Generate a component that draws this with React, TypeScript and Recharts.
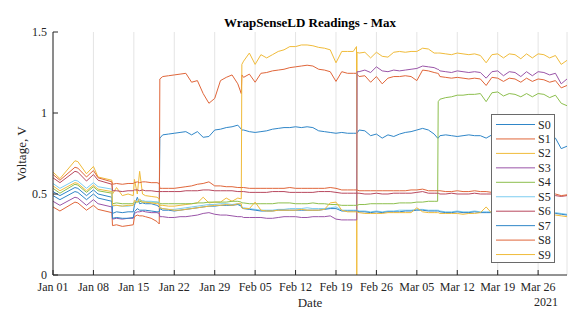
import React from 'react';
import { CartesianGrid, Line, LineChart, XAxis, YAxis } from 'recharts';

// sample times, in days after Jan 01 2021 (extra samples sit on the steps)
const days = [
  0, 1.2, 3.8, 4.3, 5.8, 7.0, 7.8, 10.2,
  10.3, 11, 12, 13, 13.9, 14.1, 14.6, 15, 15.5, 16, 17, 18, 18.4,
  18.5, 19, 20, 21, 22, 23, 24, 25, 26, 27, 28, 29, 30, 31, 32, 32.6,
  32.7, 33, 34, 35, 36, 37, 38, 39, 40, 41, 42, 43, 44, 45, 46, 47, 48, 49, 50, 51, 52, 52.55,
  52.6, 52.65, 53, 54, 55, 56, 57, 58, 59, 60, 61, 62, 63, 64, 65, 66, 66.6,
  66.7, 67, 68, 69, 70, 71, 72, 73, 74, 75, 76, 77, 78, 79, 80, 81, 82, 83, 84, 85, 86, 87, 88, 89,
];

const s0 = [
  0.515, 0.49, 0.54, 0.535, 0.49, 0.525, 0.5, 0.48,
  0.38, 0.39, 0.385, 0.39, 0.39, 0.43, 0.48, 0.44, 0.445, 0.44, 0.44, 0.43, 0.42,
  0.845, 0.865, 0.87, 0.875, 0.88, 0.885, 0.865, 0.885, 0.85, 0.855, 0.895, 0.9, 0.91, 0.915, 0.925, 0.9,
  0.895, 0.895, 0.885, 0.88, 0.885, 0.89, 0.9, 0.905, 0.91, 0.91, 0.915, 0.91, 0.915, 0.91, 0.89, 0.885, 0.88, 0.875, 0.88, 0.875, 0.875, 0.875,
  0.875, 0.875, 0.895, 0.89, 0.86, 0.87, 0.845, 0.865, 0.855, 0.87, 0.88, 0.885, 0.895, 0.905, 0.895, 0.87, 0.845,
  0.845, 0.86, 0.865, 0.86, 0.855, 0.86, 0.865, 0.86, 0.86, 0.845, 0.865, 0.87, 0.855, 0.865, 0.87, 0.86, 0.87, 0.865, 0.87, 0.865, 0.86, 0.845, 0.78, 0.795,
];
const s1 = [
  0.42, 0.395, 0.45, 0.445, 0.4, 0.43, 0.405, 0.385,
  0.305, 0.31, 0.3, 0.305, 0.31, 0.36, 0.37, 0.365, 0.365, 0.36, 0.35, 0.33, 0.315,
  1.21, 1.225, 1.23, 1.235, 1.24, 1.245, 1.19, 1.2, 1.12, 1.06, 1.09, 1.2, 1.22, 1.235, 1.18, 1.12,
  1.235, 1.22, 1.24, 1.19, 1.245, 1.25, 1.26, 1.265, 1.27, 1.28, 1.285, 1.29, 1.295, 1.29, 1.27, 1.265, 1.255, 1.195, 1.255, 1.245, 1.245, 1.245,
  1.245, 1.24, 1.225, 1.23, 1.19, 1.225, 1.18, 1.215, 1.225, 1.225, 1.23, 1.225, 1.2, 1.265, 1.26, 1.25, 1.245,
  1.245, 1.225, 1.22, 1.215, 1.22, 1.215, 1.21, 1.215, 1.21, 1.17, 1.22, 1.215, 1.195, 1.215, 1.21, 1.19, 1.215, 1.195, 1.21, 1.205, 1.19, 1.2, 1.155, 1.17,
];
const s2 = [
  0.635, 0.595, 0.705, 0.7, 0.625, 0.67, 0.605, 0.585,
  0.5, 0.54, 0.49, 0.5, 0.49, 0.59, 0.5, 0.64, 0.5, 0.49, 0.485, 0.48, 0.47,
  0.43, 0.43, 0.425, 0.425, 0.43, 0.435, 0.44, 0.445, 0.48, 0.445, 0.45, 0.45, 0.475, 0.455, 0.475, 0.47,
  1.3, 1.32, 1.37, 1.3, 1.36, 1.34, 1.36, 1.38, 1.39, 1.41, 1.41, 1.42, 1.42, 1.415, 1.405, 1.4, 1.39, 1.31, 1.38, 1.38, 1.38, 1.41,
  0, 1.375, 1.37, 1.375, 1.34, 1.375, 1.35, 1.345, 1.375, 1.38, 1.375, 1.38, 1.38, 1.4, 1.395, 1.37, 1.37,
  1.37, 1.37, 1.365, 1.36, 1.37, 1.365, 1.36, 1.365, 1.355, 1.31, 1.36, 1.365, 1.34, 1.365, 1.36, 1.335, 1.365, 1.34, 1.365, 1.36, 1.34, 1.355, 1.3, 1.325,
];
const s3 = [
  0.455, 0.43, 0.48, 0.475, 0.43, 0.465, 0.44, 0.42,
  0.345, 0.35, 0.345, 0.35, 0.35, 0.38, 0.39, 0.39, 0.395, 0.39, 0.385, 0.385, 0.38,
  0.36, 0.36, 0.355, 0.355, 0.36, 0.36, 0.365, 0.37, 0.38, 0.385, 0.375, 0.37, 0.37, 0.365, 0.36, 0.36,
  0.36, 0.355, 0.355, 0.355, 0.355, 0.35, 0.35, 0.355, 0.36, 0.36, 0.36, 0.355, 0.355, 0.36, 0.36, 0.36, 0.365, 0.345, 0.34, 0.34, 0.34, 0.34,
  0.34, 1.255, 1.255, 1.265, 1.25, 1.285, 1.26, 1.255, 1.265, 1.26, 1.265, 1.27, 1.275, 1.29, 1.285, 1.28, 1.27,
  1.27, 1.26, 1.255, 1.25, 1.26, 1.255, 1.25, 1.255, 1.25, 1.215, 1.255, 1.26, 1.23, 1.255, 1.25, 1.225, 1.255, 1.23, 1.255, 1.25, 1.235, 1.245, 1.18, 1.21,
];
const s4 = [
  0.535, 0.505, 0.56, 0.555, 0.51, 0.545, 0.52, 0.505,
  0.44, 0.445, 0.44, 0.44, 0.44, 0.45, 0.45, 0.455, 0.45, 0.45, 0.45, 0.45, 0.445,
  0.44, 0.44, 0.44, 0.44, 0.44, 0.44, 0.44, 0.445, 0.445, 0.45, 0.45, 0.45, 0.45, 0.455, 0.455, 0.45,
  0.445, 0.445, 0.44, 0.44, 0.44, 0.44, 0.44, 0.445, 0.445, 0.445, 0.44, 0.44, 0.44, 0.445, 0.44, 0.44, 0.435, 0.435, 0.43, 0.43, 0.43, 0.43,
  0.43, 0.43, 0.435, 0.435, 0.44, 0.44, 0.44, 0.44, 0.44, 0.445, 0.445, 0.445, 0.45, 0.45, 0.455, 0.455, 0.455,
  1.07, 1.085, 1.095, 1.1, 1.11, 1.11, 1.115, 1.115, 1.12, 1.07, 1.125, 1.13, 1.105, 1.12, 1.115, 1.1, 1.12, 1.1, 1.12, 1.115, 1.095, 1.11, 1.06, 1.045,
];
const s5 = [
  0.565, 0.535, 0.585, 0.58, 0.535, 0.57, 0.545, 0.53,
  0.425, 0.43, 0.425, 0.425, 0.43, 0.45, 0.46, 0.46, 0.46, 0.455, 0.455, 0.45, 0.45,
  0.415, 0.41, 0.405, 0.405, 0.41, 0.415, 0.42, 0.425, 0.43, 0.435, 0.435, 0.44, 0.44, 0.435, 0.44, 0.43,
  0.42, 0.415, 0.41, 0.405, 0.4, 0.4, 0.4, 0.405, 0.405, 0.41, 0.41, 0.41, 0.415, 0.41, 0.41, 0.41, 0.415, 0.42, 0.4, 0.4, 0.4, 0.4,
  0.4, 0.4, 0.395, 0.395, 0.39, 0.395, 0.39, 0.395, 0.395, 0.4, 0.4, 0.4, 0.405, 0.405, 0.4, 0.4, 0.4,
  0.4, 0.395, 0.39, 0.39, 0.395, 0.39, 0.39, 0.395, 0.39, 0.39, 0.39, 0.395, 0.39, 0.39, 0.395, 0.395, 0.39, 0.39, 0.395, 0.395, 0.39, 0.385, 0.38, 0.375,
];
const s6 = [
  0.6, 0.57, 0.64, 0.635, 0.58, 0.62, 0.585, 0.56,
  0.52, 0.52, 0.515, 0.52, 0.52, 0.525, 0.525, 0.52, 0.525, 0.52, 0.52, 0.515, 0.515,
  0.515, 0.515, 0.515, 0.515, 0.515, 0.52, 0.52, 0.52, 0.525, 0.525, 0.52, 0.52, 0.52, 0.52, 0.515, 0.515,
  0.515, 0.515, 0.51, 0.51, 0.51, 0.51, 0.515, 0.515, 0.515, 0.51, 0.51, 0.51, 0.51, 0.51, 0.515, 0.515, 0.515, 0.51, 0.505, 0.505, 0.505, 0.505,
  0.505, 0.505, 0.505, 0.5, 0.5, 0.505, 0.5, 0.5, 0.505, 0.505, 0.505, 0.505, 0.51, 0.515, 0.505, 0.505, 0.505,
  0.505, 0.5, 0.5, 0.505, 0.5, 0.5, 0.5, 0.505, 0.5, 0.5, 0.5, 0.5, 0.5, 0.495, 0.5, 0.5, 0.495, 0.495, 0.495, 0.495, 0.49, 0.49, 0.485, 0.49,
];
const s7 = [
  0.49, 0.465, 0.515, 0.51, 0.465, 0.5, 0.475, 0.455,
  0.35, 0.355, 0.35, 0.35, 0.355, 0.39, 0.41, 0.4, 0.4, 0.4, 0.395, 0.39, 0.39,
  0.41, 0.4, 0.4, 0.395, 0.4, 0.405, 0.41, 0.415, 0.42, 0.425, 0.425, 0.43, 0.43, 0.43, 0.435, 0.425,
  0.415, 0.41, 0.405, 0.4, 0.395, 0.395, 0.395, 0.4, 0.4, 0.4, 0.4, 0.4, 0.4, 0.4, 0.4, 0.405, 0.41, 0.41, 0.395, 0.395, 0.395, 0.395,
  0.395, 0.395, 0.39, 0.39, 0.385, 0.39, 0.385, 0.39, 0.39, 0.39, 0.395, 0.395, 0.4, 0.4, 0.395, 0.395, 0.395,
  0.395, 0.39, 0.385, 0.385, 0.39, 0.385, 0.385, 0.39, 0.385, 0.385, 0.385, 0.39, 0.385, 0.385, 0.39, 0.39, 0.385, 0.385, 0.39, 0.39, 0.385, 0.38, 0.375, 0.37,
];
const s8 = [
  0.62, 0.585, 0.665, 0.66, 0.605, 0.645, 0.6, 0.575,
  0.56, 0.565, 0.56, 0.565, 0.565, 0.57, 0.575, 0.57, 0.575, 0.575, 0.57, 0.57, 0.565,
  0.535, 0.535, 0.535, 0.535, 0.54, 0.545, 0.55, 0.56, 0.565, 0.575, 0.55, 0.55, 0.545, 0.545, 0.54, 0.54,
  0.54, 0.54, 0.535, 0.535, 0.535, 0.535, 0.535, 0.535, 0.535, 0.54, 0.535, 0.535, 0.535, 0.535, 0.535, 0.535, 0.54, 0.535, 0.525, 0.525, 0.525, 0.525,
  0.525, 0.525, 0.52, 0.52, 0.52, 0.52, 0.52, 0.52, 0.52, 0.52, 0.52, 0.525, 0.525, 0.53, 0.52, 0.52, 0.52,
  0.52, 0.52, 0.515, 0.515, 0.52, 0.515, 0.515, 0.52, 0.515, 0.515, 0.51, 0.51, 0.51, 0.51, 0.51, 0.505, 0.505, 0.505, 0.505, 0.5, 0.5, 0.5, 0.49, 0.495,
];
const s9 = [
  0.55, 0.52, 0.57, 0.565, 0.52, 0.555, 0.53, 0.515,
  0.43, 0.43, 0.425, 0.43, 0.43, 0.46, 0.45, 0.47, 0.45, 0.45, 0.445, 0.44, 0.44,
  0.415, 0.41, 0.405, 0.4, 0.4, 0.405, 0.41, 0.415, 0.42, 0.425, 0.43, 0.43, 0.435, 0.43, 0.44, 0.44,
  0.415, 0.41, 0.41, 0.45, 0.4, 0.395, 0.395, 0.4, 0.4, 0.4, 0.4, 0.405, 0.4, 0.4, 0.4, 0.405, 0.445, 0.45, 0.4, 0.39, 0.39, 0.39,
  0.39, 0.39, 0.385, 0.38, 0.38, 0.38, 0.38, 0.385, 0.385, 0.385, 0.385, 0.385, 0.415, 0.39, 0.385, 0.385, 0.385,
  0.385, 0.38, 0.38, 0.38, 0.38, 0.375, 0.38, 0.38, 0.385, 0.42, 0.38, 0.38, 0.375, 0.38, 0.38, 0.385, 0.38, 0.38, 0.38, 0.375, 0.37, 0.37, 0.365, 0.36,
];

const seriesNames = ['S0', 'S1', 'S2', 'S3', 'S4', 'S5', 'S6', 'S7', 'S8', 'S9'];
const seriesValues = [s0, s1, s2, s3, s4, s5, s6, s7, s8, s9];
const seriesColors = [
  '#2f86c8', '#e0663a', '#f0bb3a', '#9a55a8', '#8dbf4e',
  '#7ccdf0', '#b8485e', '#2f86c8', '#e0663a', '#f0bb3a',
];

const xTicks = [0, 7, 14, 21, 28, 35, 42, 49, 56, 63, 70, 77, 84];
const xTickLabels = [
  'Jan 01', 'Jan 08', 'Jan 15', 'Jan 22', 'Jan 29', 'Feb 05', 'Feb 12',
  'Feb 19', 'Feb 26', 'Mar 05', 'Mar 12', 'Mar 19', 'Mar 26',
];
const yTicks = [0, 0.5, 1, 1.5];

const chartData = days.map((day, i) => {
  const row: Record<string, number> = { day };
  seriesNames.forEach((name, k) => {
    row[name] = seriesValues[k][i];
  });
  return row;
});

const FONT = '"Liberation Serif", "Times New Roman", serif';
const INK = '#262626';
const tickStyle = { fontFamily: FONT, fontSize: 12, fill: INK };

const pageCss = `
body { margin: 0; }
.chart-box svg text { font-family: ${FONT}; }
`;

const Overlay = () => (
  <svg
    width={580}
    height={330}
    style={{ position: 'absolute', left: 0, top: 0, pointerEvents: 'none' }}
  >
    <text x={310} y={27} textAnchor="middle" fontSize={13} fontWeight="bold" fill="#000">
      WrapSenseLD Readings - Max
    </text>
    <text x={26} y={154} transform="rotate(-90 26 154)" textAnchor="middle" fontSize={13} fill={INK}>
      Voltage, V
    </text>
    <text x={310} y={307} textAnchor="middle" fontSize={13} fill={INK}>
      Date
    </text>
    <text x={546} y={306} textAnchor="middle" fontSize={12} fill={INK}>
      2021
    </text>
    <g>
      <rect x={491.5} y={114.5} width={63} height={148} fill="#fff" stroke="#6a6a6a" strokeWidth={1} />
      {seriesNames.map((name, k) => {
        const cy = 124.5 + k * 14.45;
        return (
          <g key={name}>
            <line x1={496} x2={535} y1={cy} y2={cy} stroke={seriesColors[k]} strokeWidth={1} />
            <text x={538} y={cy + 4} fontSize={12} fill={INK}>
              {name}
            </text>
          </g>
        );
      })}
    </g>
  </svg>
);

export default function App() {
  return (
    <div className="chart-box" style={{ position: 'relative', width: 580, height: 330, background: '#fff' }}>
      <style>{pageCss}</style>
      <LineChart
        width={580}
        height={330}
        data={chartData}
        margin={{ top: 32, right: 13, bottom: 25, left: 0 }}
      >
        <CartesianGrid vertical horizontal={false} stroke="#e4e4e4" />
        <XAxis
          dataKey="day"
          type="number"
          domain={[0, 89]}
          ticks={xTicks}
          tickFormatter={(v: number) => xTickLabels[xTicks.indexOf(v)]}
          height={30}
          stroke={INK}
          tick={tickStyle}
          tickSize={-5}
          tickMargin={12}
          interval={0}
          allowDataOverflow
        />
        <XAxis
          xAxisId="top"
          orientation="top"
          type="number"
          domain={[0, 89]}
          ticks={xTicks}
          height={0}
          stroke={INK}
          tick={false}
          tickSize={-5}
        />
        <YAxis
          type="number"
          domain={[0, 1.5]}
          ticks={yTicks}
          width={53}
          stroke={INK}
          tick={tickStyle}
          tickSize={-5}
          tickMargin={11}
          interval={0}
        />
        <YAxis
          yAxisId="right"
          orientation="right"
          type="number"
          domain={[0, 1.5]}
          ticks={yTicks}
          width={0}
          stroke={INK}
          tick={false}
          tickSize={-5}
        />
        {seriesNames.map((name, k) => (
          <Line
            key={name}
            type="linear"
            dataKey={name}
            stroke={seriesColors[k]}
            strokeWidth={1}
            dot={false}
            activeDot={false}
            isAnimationActive={false}
          />
        ))}
      </LineChart>
      <Overlay />
    </div>
  );
}
